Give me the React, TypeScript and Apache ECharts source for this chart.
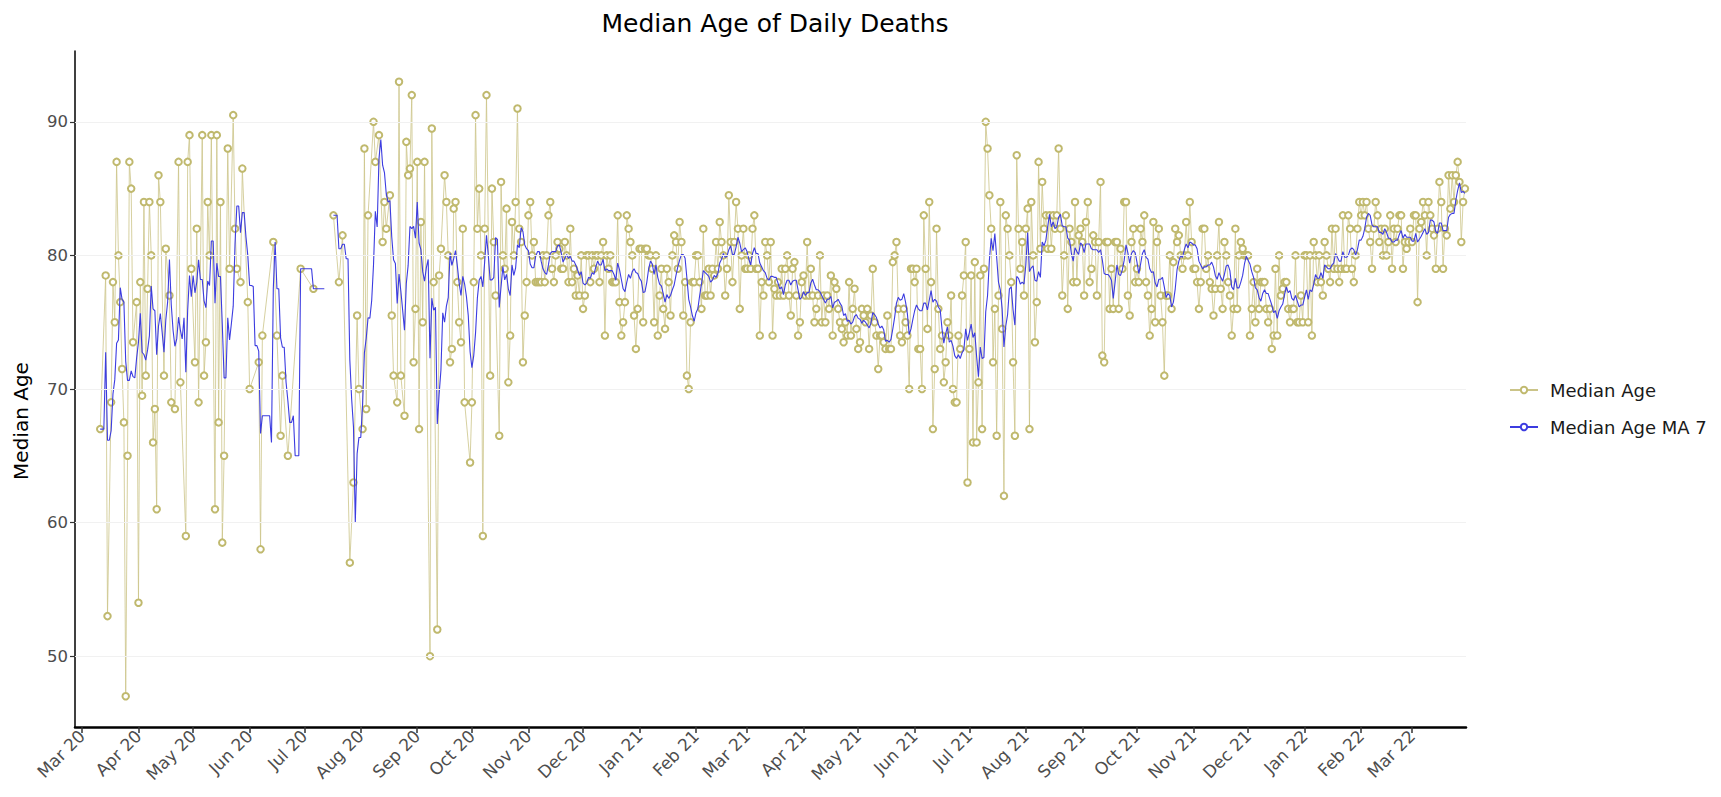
import React, { useEffect, useRef } from "react";
import * as echarts from "echarts";

const TITLE = "Median Age of Daily Deaths";
const Y_TITLE = "Median Age";
const RAW_NAME = "Median Age";
const MA_NAME = "Median Age MA 7";
const MA_WINDOW = 7;
const Y_TICKS = [50, 60, 70, 80, 90];
const MONTH_ABBR = ["Jan", "Feb", "Mar", "Apr", "May", "Jun", "Jul", "Aug", "Sep", "Oct", "Nov", "Dec"];

// Daily median age, one array per month (index 0 = 1st of the month, null = no value)
const mar20 = [null, null, null, null, null, null, null, null, null, null, 67, null, null, 78.5, 53, null, 69, 78, 75, 87, 80, 76.5, 71.5, 67.5, 47, 65, 87, 85, 73.5, null, 76.5];
const apr20 = [54, 78, 69.5, 84, 71, 77.5, 84, 80, 66, 68.5, 61, 86, 84, null, 71, 80.5, null, 77, 69, null, 68.5, null, 87, 70.5, null, null, 59, 87, 89, 79];
const may20 = [null, 72, 82, 69, null, 89, 71, 73.5, 84, 80, 89, null, 61, 89, 67.5, 84, 58.5, 65, null, 88, 79, null, 90.5, 82, 79, null, 78, 86.5, null, null, 76.5];
const jun20 = [70, null, null, null, null, 72, 58, 74, null, null, null, null, null, 81, null, 74, null, 66.5, 71, null, null, 65, null, null, null, null, null, null, 79, null];
const jul20 = [null, null, null, null, null, 77.5, null, null, null, null, null, null, null, null, null, null, 83, null, null, 78, null, 81.5, null, null, null, 57, null, 63, null, 75.5, 70];
const aug20 = [null, 67, 88, 68.5, 83, null, null, 90, 87, null, 89, null, 81, 84, 82, null, 84.5, 75.5, 71, null, 69, 93, 71, null, 68, 88.5, 86, 86.5, 92, 72, 76];
const sep20 = [87, 67, 82.5, 75, 87, null, null, 50, 89.5, 78, null, 52, 78.5, 80.5, null, 86, 84, 80, 72, 73, 83.5, 84, 78, 75, 73.5, 82, 69, null, null, 64.5];
const oct20 = [69, 78, 90.5, 82, 85, 80, 59, 82, 92, null, 71, 85, 81, 77, null, 66.5, 85.5, 80, 79, 83.5, 70.5, 74, 82.5, 80, 84, 91, 82, 81, 72, 75.5, 78];
const nov20 = [83, 84, 80, 81, 78, 78, 78, 78, 80, 78, 80, 83, 84, 79, 78, 80, 81, 80.5, 79, 79, 81, 80, 78, 82, 78, 79, 77, 78.5, 77, 80];
const dec20 = [76, 77, 80, 80, 78, 80, 79, 80, 80, 78, 80, 81, 74, 80, 79, 80, 78, 78, 78, 83, 76.5, 74, 75, 76.5, 83, 82, 81, 80, 75.5, 73, 76];
const jan21 = [80.5, 80.5, 75, 80.5, 80.5, 80, 80, 79, 75, 80, 74, 77, 79, 76, 74.5, 79, 78, 75.5, 80, 81.5, 81, 79, 82.5, 81, 75.5, 78, 71, 70, 75, 78, 78];
const feb21 = [80, 80, 78, 76, 82, 77, 77, 79, 77, 79, 78.5, 81, 79, 82.5, 81, 80, 77, 79, 84.5, 81, 78, 81, 84, 82, 76, 80, 82, 79];
const mar21 = [79, 80, 79, 82, 83, 79, 79, 74, 78, 77, 81, 80, 78, 81, 74, 77.5, 77, 78, 77, 79, 77, 79, 80, 77, 75.5, 79, 79.5, 77, 74, 75, 78];
const apr21 = [78.5, 77, 81, 77, 79, 77, 75, 76, 77, 80, 75, 77, 75, 77, 76, 78.5, 74, 78, 77.5, 76, 75, 74.5, 73.5, 75, 74, 78, 74, 76, 77.5, 74.5];
const may21 = [73, 73.5, 76, 75.5, 75, 76, 73, 75.5, 79, 75, 74, 71.5, 74, 74, 73.5, 73, 75.5, 73, 73, 79.5, 80, 81, 76, 74, 73.5, 76, 75, 74, 70, 79, 79];
const jun21 = [78, 79, 73, 73, 70, 83, 79, 74.5, 84, 78, 67, 71.5, 82, 76, 73, 74, 70.5, 72, 75, 74, 77, 70, 69, 69, 74, 73, 77, 78.5, 81, 63];
const jul21 = [73, 78.5, 66, 79.5, 66, 70.5, 78.5, 67, 79, 90, 88, 84.5, 82, 72, 76, 66.5, 77, 84, 74.5, 62, 83, 82, 80, 78, 72, 66.5, 87.5, 82, 79, 81, 77];
const aug21 = [82, 83.5, 67, 84, 80, 73.5, 76.5, 87, 80.5, 85.5, 82, 83, 80.5, 83, 80.5, 83, 82, 83, 88, 82, 77, 80, 83, 76, 82, 81, 78, 84, 78, 81.5, 82];
const sep21 = [81, 77, 82.5, 84, 78, 79, 81.5, 81, 77, 81, 85.5, 72.5, 72, 81, 81, 76, 79, 76, 81, 81, 76, 80.5, 79, 84, 84, 77, 75.5, 81, 82, 78];
const oct21 = [79, 78, 82, 81, 83, 78, 77, 74, 76, 82.5, 75, 81, 82, 77, 75, 71, 77, 77, 80, 76, 79.5, 82, 81, 81.5, 80, 79, 80, 82.5, 80, 84, 81];
const nov21 = [79, 79, 78, 76, 78, 82, 82, 79, 80, 78, 77.5, 75.5, 77.5, 80, 82.5, 77.5, 76, 81, 80, 78, 77, 74, 76, 82, 76, 80, 81, 80.5, 80, 80];
const dec21 = [80, 74, 76, 78, 75, 79, 76, 78, 78, 78, 76, 75, 76, 73, 74, 79, 74, 80, 77, 77.5, 78, 78, 76, 75, 76, 76, 80, 75, 75, 77, 75];
const jan22 = [80, 80, 75, 80, 74, 81, 80, 78, 80, 78, 77, 81, 80, 79, 78, 82, 79, 82, 79, 78, 79, 83, 79, 79, 83, 82, 79, 78, 80, 82, 84];
const feb22 = [83, 84, 83, 84, 82, 81, 79, 82, 84, 83, 81, 82, 80, 82, 80, 81, 83, 79, 82, 81, 82, 83, 83, 79, 81, 80.5, 81, 82];
const mar22 = [81, 83, 83, 76.5, 82, 82.5, 84, 83, 80, 84, 83, 82, 81.5, 79, 82, 85.5, 84, 79, 82, 81.5, 86, 83.5, 86, 84, 86, 87, 85.5, 81, 84, 85, null];

const MONTH_DATA = [
  { year: 2020, month: 2, values: mar20 }, { year: 2020, month: 3, values: apr20 },
  { year: 2020, month: 4, values: may20 }, { year: 2020, month: 5, values: jun20 },
  { year: 2020, month: 6, values: jul20 }, { year: 2020, month: 7, values: aug20 },
  { year: 2020, month: 8, values: sep20 }, { year: 2020, month: 9, values: oct20 },
  { year: 2020, month: 10, values: nov20 }, { year: 2020, month: 11, values: dec20 },
  { year: 2021, month: 0, values: jan21 }, { year: 2021, month: 1, values: feb21 },
  { year: 2021, month: 2, values: mar21 }, { year: 2021, month: 3, values: apr21 },
  { year: 2021, month: 4, values: may21 }, { year: 2021, month: 5, values: jun21 },
  { year: 2021, month: 6, values: jul21 }, { year: 2021, month: 7, values: aug21 },
  { year: 2021, month: 8, values: sep21 }, { year: 2021, month: 9, values: oct21 },
  { year: 2021, month: 10, values: nov21 }, { year: 2021, month: 11, values: dec21 },
  { year: 2022, month: 0, values: jan22 }, { year: 2022, month: 1, values: feb22 },
  { year: 2022, month: 2, values: mar22 },
];

const DAY = 86400000;
const X_MIN = Date.UTC(2020, 1, 26, 4);
const X_MAX = Date.UTC(2022, 2, 30, 14);

function buildObservations() {
  const obs: { t: number; v: number }[] = [];
  MONTH_DATA.forEach(({ year, month, values }) => {
    values.forEach((v, i) => {
      if (v !== null && v !== undefined) obs.push({ t: Date.UTC(year, month, i + 1), v: v as number });
    });
  });
  return obs;
}

const OBS = buildObservations();

function buildRaw() {
  const out: any[] = [];
  OBS.forEach((o, i) => {
    if (i > 0 && o.t - OBS[i - 1].t > MA_WINDOW * DAY) out.push([OBS[i - 1].t + DAY, null]);
    out.push([o.t, o.v]);
  });
  return out;
}

// 7-day trailing moving average of the available daily values
function buildMA() {
  const out: any[] = [];
  const byDay = new Map<number, number>();
  OBS.forEach((o) => byDay.set(o.t, o.v));
  const first = OBS[0].t;
  const last = OBS[OBS.length - 1].t;
  for (let t = first; t <= last; t += DAY) {
    let s = 0;
    let n = 0;
    for (let k = 0; k < MA_WINDOW; k++) {
      const v = byDay.get(t - k * DAY);
      if (v !== undefined) { s += v; n++; }
    }
    out.push([t, n > 0 ? s / n : null]);
  }
  return out;
}

function monthTicks() {
  const ticks: number[] = [];
  let y = 2020;
  let m = 2;
  while (y < 2022 || (y === 2022 && m <= 2)) {
    ticks.push(Date.UTC(y, m, 1));
    m++;
    if (m > 11) { m = 0; y++; }
  }
  return ticks;
}

const FONT = "'DejaVu Sans', 'Liberation Sans', sans-serif";

export default function App() {
  const ref = useRef<HTMLDivElement>(null);
  useEffect(() => {
    if (!ref.current) return;
    const chart = echarts.init(ref.current, null, { renderer: "svg" });
    const xTicks = monthTicks();
    const option: any = {
      animation: false,
      backgroundColor: "#ffffff",
      title: {
        text: TITLE,
        left: 770,
        top: 6,
        textAlign: "center",
        textStyle: { fontFamily: FONT, fontSize: 25, fontWeight: "normal", color: "#000" },
      },
      legend: {
        orient: "vertical",
        left: 1504,
        top: 376,
        itemWidth: 28,
        itemHeight: 8,
        itemGap: 19,
        data: [RAW_NAME, MA_NAME],
        textStyle: { fontFamily: FONT, fontSize: 18, color: "#1a1a1a", padding: [0, 0, 0, 7] },
      },
      grid: { left: 75, right: 255, top: 51, bottom: 70, containLabel: false, outerBoundsMode: "none" },
      graphic: [
        {
          type: "text",
          x: 21,
          y: 421,
          rotation: Math.PI / 2,
          style: {
            text: Y_TITLE,
            fontFamily: FONT,
            fontSize: 20,
            fill: "#000",
            align: "center",
            verticalAlign: "middle",
          },
        },
      ],
      xAxis: {
        type: "value",
        min: X_MIN,
        max: X_MAX,
        axisLine: { show: true, lineStyle: { color: "#000", width: 2.5 } },
        axisTick: { show: true, customValues: xTicks, length: 6, lineStyle: { color: "#333", width: 1.5 } },
        axisLabel: {
          customValues: xTicks,
          rotate: 45,
          margin: 6,
          overflow: "none",
          hideOverlap: false,
          fontFamily: FONT,
          fontSize: 17,
          color: "#4d4d4d",
          formatter: (val: number) => {
            const d = new Date(val);
            return MONTH_ABBR[d.getUTCMonth()] + " " + String(d.getUTCFullYear()).slice(2);
          },
        },
        splitLine: { show: false },
      },
      yAxis: {
        type: "value",
        min: 44.7,
        max: 95.3,
        axisLine: { show: true, lineStyle: { color: "#000", width: 1.5 } },
        axisTick: { show: true, customValues: Y_TICKS, length: 5, lineStyle: { color: "#333", width: 1.2 } },
        axisLabel: { customValues: Y_TICKS, margin: 7, fontFamily: FONT, fontSize: 16.5, color: "#4d4d4d" },
        splitLine: { show: false },
      },
      series: [
        {
          name: "grid",
          type: "line",
          data: [],
          silent: true,
          z: 1,
          markLine: {
            silent: true,
            symbol: ["none", "none"],
            label: { show: false },
            lineStyle: { color: "#f1f1f1", width: 1, type: "solid" },
            data: Y_TICKS.map((v) => ({ yAxis: v })),
          },
        },
        {
          name: RAW_NAME,
          type: "line",
          data: buildRaw(),
          symbol: "emptyCircle",
          symbolSize: 6.5,
          showSymbol: true,
          showAllSymbol: true,
          connectNulls: false,
          z: 2,
          lineStyle: { color: "#cbc488", width: 0.8 },
          itemStyle: { color: "#c0b96e", borderWidth: 1 },
        },
        {
          name: MA_NAME,
          type: "line",
          data: buildMA(),
          symbol: "emptyCircle",
          symbolSize: 6,
          showSymbol: false,
          connectNulls: false,
          z: 3,
          lineStyle: { color: "#3c3ce0", width: 1.1 },
          itemStyle: { color: "#3c3ce0", borderWidth: 1.5 },
        },
      ],
    };
    chart.setOption(option);
    return () => chart.dispose();
  }, []);
  return (
    <div
      ref={ref}
      style={{ position: "fixed", left: 0, top: 0, width: "1721px", height: "797px", background: "#fff" }}
    />
  );
}
